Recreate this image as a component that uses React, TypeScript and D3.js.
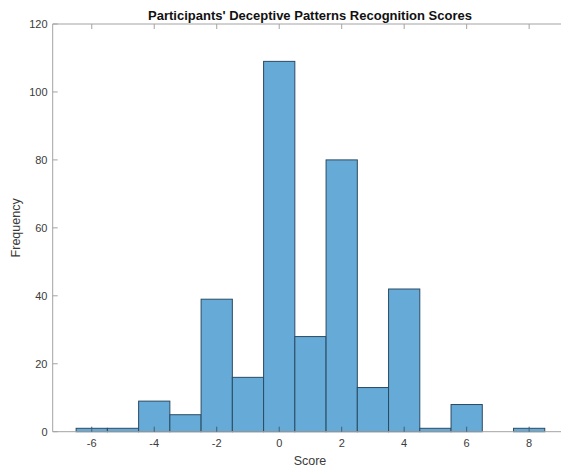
import React, { useEffect, useRef } from 'react';
import * as d3 from 'd3';

// histogram data (bin centres, width 1)
const scores = [-6, -5, -4, -3, -2, -1, 0, 1, 2, 3, 4, 5, 6, 7, 8];
const counts = [1, 1, 9, 5, 39, 16, 109, 28, 80, 13, 42, 1, 8, 0, 1];
const xTicks = [-6, -4, -2, 0, 2, 4, 6, 8];
const yTicks = [0, 20, 40, 60, 80, 100, 120];

const W = 561;
const H = 469;

const App = () => {
    const chartRef = useRef(null);

    useEffect(() => {
        const svg = d3.select(chartRef.current);
        svg.selectAll('*').remove();

        const x = d3.scaleLinear().domain([-7.25, 9.25]).range([52.7, 568.2]);
        const y = d3.scaleLinear().domain([0, 120]).range([431.7, 24]);
        const font = '"Liberation Sans", Arial, Helvetica, sans-serif';
        const axisColor = '#a3a3a3';
        const textColor = '#3b3b3b';

        // bars
        svg.append('g')
            .selectAll('rect')
            .data(scores.map((s, i) => ({ s, c: counts[i] })).filter(d => d.c > 0))
            .enter()
            .append('rect')
            .attr('x', d => x(d.s - 0.5))
            .attr('width', d => x(d.s + 0.5) - x(d.s - 0.5))
            .attr('y', d => y(d.c))
            .attr('height', d => y(0) - y(d.c))
            .attr('fill', '#66aad7')
            .attr('stroke', '#2a4b63')
            .attr('stroke-width', 1);

        // box lines (left, bottom, top)
        const box = svg.append('g').attr('stroke', axisColor).attr('stroke-width', 1).attr('fill', 'none');
        box.append('line').attr('x1', x(-7.25)).attr('x2', x(-7.25)).attr('y1', y(0)).attr('y2', y(120));
        box.append('line').attr('x1', x(-7.25)).attr('x2', W).attr('y1', y(0)).attr('y2', y(0));
        box.append('line').attr('x1', x(-7.25)).attr('x2', W).attr('y1', y(120)).attr('y2', y(120));

        // x ticks (inward, bottom and top)
        xTicks.forEach(t => {
            box.append('line').attr('x1', x(t)).attr('x2', x(t)).attr('y1', y(0)).attr('y2', y(0) - 5)
                .attr('stroke', t >= -6.5 && t <= 8.5 ? '#3d5f78' : axisColor);
            box.append('line').attr('x1', x(t)).attr('x2', x(t)).attr('y1', y(120)).attr('y2', y(120) + 5);
        });
        // y ticks (inward)
        yTicks.forEach(t => {
            box.append('line').attr('x1', x(-7.25)).attr('x2', x(-7.25) + 5).attr('y1', y(t)).attr('y2', y(t));
        });

        // tick labels
        svg.append('g')
            .selectAll('text')
            .data(xTicks)
            .enter()
            .append('text')
            .attr('x', d => x(d))
            .attr('y', 447)
            .attr('text-anchor', 'middle')
            .attr('font-family', font)
            .attr('font-size', 11)
            .attr('fill', textColor)
            .text(d => d);

        svg.append('g')
            .selectAll('text')
            .data(yTicks)
            .enter()
            .append('text')
            .attr('x', 47.5)
            .attr('y', d => y(d) + 4)
            .attr('text-anchor', 'end')
            .attr('font-family', font)
            .attr('font-size', 11)
            .attr('fill', textColor)
            .text(d => d);

        // axis labels + title
        svg.append('text')
            .attr('x', 310)
            .attr('y', 465)
            .attr('text-anchor', 'middle')
            .attr('font-family', font)
            .attr('font-size', 12.5)
            .attr('fill', textColor)
            .text('Score');

        svg.append('text')
            .attr('transform', `translate(20,${(y(0) + y(120)) / 2}) rotate(-90)`)
            .attr('text-anchor', 'middle')
            .attr('font-family', font)
            .attr('font-size', 12.5)
            .attr('fill', textColor)
            .text('Frequency');

        svg.append('text')
            .attr('x', 310)
            .attr('y', 20)
            .attr('text-anchor', 'middle')
            .attr('font-family', font)
            .attr('font-size', 13)
            .attr('font-weight', 'bold')
            .attr('fill', '#111')
            .text("Participants' Deceptive Patterns Recognition Scores");
    }, []);

    return (
        <svg
            ref={chartRef}
            width={W}
            height={H}
            style={{ position: 'absolute', left: 0, top: 0, background: '#fff' }}
        />
    );
};

export default App;
